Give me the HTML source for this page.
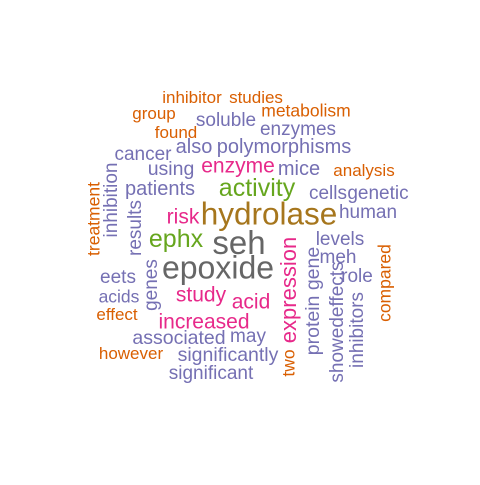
<!DOCTYPE html>
<html><head><meta charset="utf-8">
<style>
html,body{margin:0;padding:0;background:#fff;}
svg text{font-family:"Liberation Sans",Arial,sans-serif;}
</style></head>
<body>
<svg id="cloud" width="480" height="480" viewBox="0 0 480 480" xmlns="http://www.w3.org/2000/svg">
<rect width="480" height="480" fill="#fff"/>
</svg>
<script>
const words = ["seh","epoxide","hydrolase","activity","ephx","expression","enzyme","risk","study","acid","increased","polymorphisms","also","mice","patients","using","cancer","soluble","enzymes","cells","genetic","human","levels","meh","role","associated","may","significantly","significant","eets","acids","genes","results","inhibition","protein gene","showedeffects","inhibitors","compared","two","treatment","inhibitor","studies","metabolism","group","found","analysis","effect","however"];
const sizes = [33,32,31.5,25,25,22,21,21,21,21,21,20,20,20,20,19.5,19,19,19,19,19,19,19,19,19,19.5,19,19.5,19,19,17.5,19,19,19,19.5,19,19,17.5,17.5,17.5,17,17,17.5,17,17,17,17,17];
const colors = ["#666666","#666666","#A6761D","#66A61E","#66A61E","#E7298A","#E7298A","#E7298A","#E7298A","#E7298A","#E7298A","#7570B3","#7570B3","#7570B3","#7570B3","#7570B3","#7570B3","#7570B3","#7570B3","#7570B3","#7570B3","#7570B3","#7570B3","#7570B3","#7570B3","#7570B3","#7570B3","#7570B3","#7570B3","#7570B3","#7570B3","#7570B3","#7570B3","#7570B3","#7570B3","#7570B3","#7570B3","#D95F02","#D95F02","#D95F02","#D95F02","#D95F02","#D95F02","#D95F02","#D95F02","#D95F02","#D95F02","#D95F02"];
const cx = [239,218,269,257,176,288,238,183,201,251,204,284,194,299,160,171,143,226,298,328,378,368,340,338,357,179,248,228,211,118,119,150,134,110,312,336,356,384,288,93,192,256,306,154,176,364,117,131];
const cy = [242,267,213,187,238,290,165,216,294,301,321,146,146,168,188,168,153,119,128,192,192,211,238,256,275,337,335,354,372,276,296,285,228,200,301,322,330,283,363,219,97,97,110,113,132,170,314,353];
const vert = [0,0,0,0,0,1,0,0,0,0,0,0,0,0,0,0,0,0,0,0,0,0,0,0,0,0,0,0,0,0,0,1,1,1,1,1,1,1,1,1,0,0,0,0,0,0,0,0];
const svg = document.getElementById('cloud');
const NS = "http://www.w3.org/2000/svg";
for (let i = 0; i < words.length; i++) {
  const t = document.createElementNS(NS, 'text');
  
  
  t.setAttribute('text-anchor', 'middle');
  t.setAttribute('font-size', sizes[i]);
  t.setAttribute('fill', colors[i]);
  const off = sizes[i] * 0.36;
  if (vert[i]) {
    const x = cx[i] + off, y = cy[i];
    t.setAttribute('x', x); t.setAttribute('y', y);
    t.setAttribute('transform', 'rotate(-90 ' + x + ' ' + y + ')');
  } else {
    t.setAttribute('x', cx[i]); t.setAttribute('y', cy[i] + off);
  }
  t.textContent = words[i];
  svg.appendChild(t);
}
</script>
</body></html>
